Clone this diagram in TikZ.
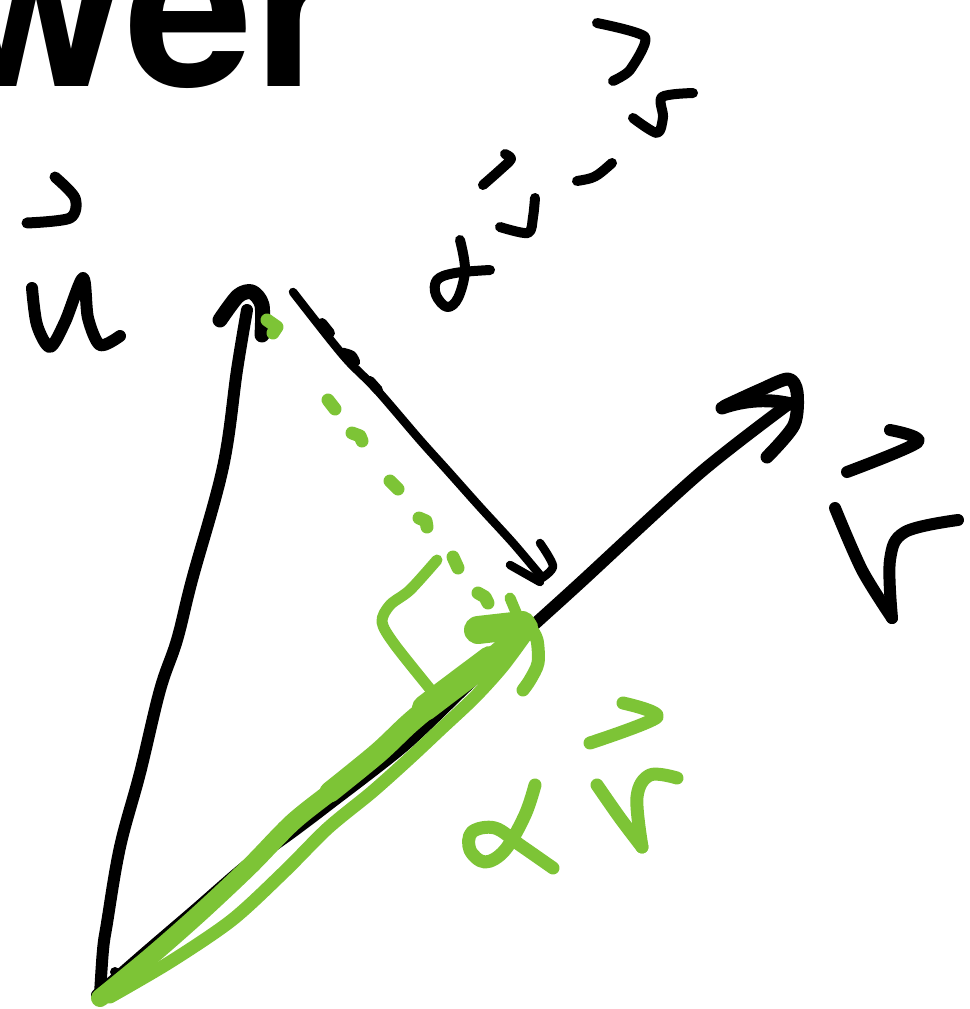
\documentclass[tikz,border=0pt]{standalone}
\usepackage{fontspec}
\newfontfamily\heros{TeX Gyre Heros}
\definecolor{gr}{RGB}{125,196,54}
\tikzset{
  ink/.style={draw=black, line cap=round, line join=round},
  gink/.style={draw=gr, line cap=round, line join=round},
}
\begin{document}
\begin{tikzpicture}[x=1pt,y=-1pt]
\useasboundingbox (0,0) rectangle (969,1009);
\clip (0,0) rectangle (969,1009);
% title fragment
\node[anchor=base west, inner sep=0, font=\heros\bfseries\fontsize{230}{230}\selectfont] (title) at (-53,86) {wer};

% vector u
\draw[ink, line width=12] plot[smooth, tension=0.6] coordinates {(100,995) (103,950) (107,923) (120,847) (140,773) (160,690) (177,640) (192,580) (223,467) (237,370) (247,310)};
\draw[ink, line width=15] plot[smooth] coordinates {(220,320) (238,296) (252,292) (262,305) (262,335)};
% label u
\draw[ink, line width=11] plot[smooth] coordinates {(55,177) (75,198) (70,218) (27,223)};
\draw[ink, line width=12] plot[smooth, tension=0.5] coordinates {(32,288) (37,325) (50,347) (65,322) (83,278) (88,318) (100,345) (120,336)};

% vector v
\draw[ink, line width=12] plot[smooth] coordinates {(97,995) (145,953) (194,911) (246,866) (295,830) (328,805) (405,745) (470,683) (537,622) (580,583) (700,473) (790,403)};
\draw[ink, line width=13] (722,408) .. controls (745,400) and (770,398) .. (795,405);
\draw[ink, line width=13] plot[smooth] coordinates {(725,406) (760,390) (788,379) (797,392) (794,425) (767,457)};
\fill (115,972) circle (5);
% label v
\draw[ink, line width=12] plot[smooth, tension=0.5] coordinates {(890,430) (918,442) (847,472)};
\draw[ink, line width=12] plot[smooth, tension=0.5] coordinates {(835,508) (862,570) (892,618)};
\draw[ink, line width=12] plot[smooth, tension=0.6] coordinates {(892,618) (890,560) (905,532) (958,520)};

% perpendicular arrow v - alpha v
\draw[ink, line width=8.5] plot[smooth] coordinates {(293,292) (307,310) (333,343) (350,363) (377,390) (420,440) (447,470) (480,507) (513,543) (540,575)};
\draw[ink, line width=8.5] (510,565) -- (540,582);
\draw[ink, line width=8.5] plot[smooth] coordinates {(540,543) (553,566) (542,578)};
\draw[ink, line width=10] (322,323) -- (330,333);
\draw[ink, line width=8.5] plot[smooth] coordinates {(343,352) (352,355) (356,362)};
\draw[ink, line width=10] (370,381) -- (378,390);

% label v - alpha v
\draw[ink, line width=10] plot[smooth, tension=0.4] coordinates {(597,23) (645,37) (630,70) (613,81)};
\draw[ink, line width=10] plot[smooth, tension=0.5] coordinates {(633,118) (657,133) (663,117) (662,97) (693,93)};
\draw[ink, line width=10] (577,181) .. controls (595,178) .. (612,163);
\draw[ink, line width=10] plot[smooth, tension=0.5] coordinates {(483,185) (500,170) (511,159) (505,154)};
\draw[ink, line width=10] plot[smooth, tension=0.5] coordinates {(500,227) (528,233) (533,217) (535,198)};
\draw[ink, line width=10] plot[smooth, tension=0.6] coordinates {(460,240) (465,270) (458,298) (447,307) (436,295) (437,280) (455,273) (490,270)};

% green projection (dashed)
\draw[gink, line width=13] (267,320) -- (277,327) -- (273,333);
\draw[gink, line width=13] (328,400) -- (335,409);
\draw[gink, line width=13] (352,433) -- (360,436) -- (362,441);
\draw[gink, line width=13] (390,481) -- (398,489);
\draw[gink, line width=13] (419,518) -- (426,521) -- (427,527);
\draw[gink, line width=13] (453,557) -- (458,568);
\draw[gink, line width=13] (478,593) -- (485,597) -- (488,603);

% right-angle mark
\draw[gink, line width=11] plot[smooth, tension=0.5] coordinates {(437,560) (410,590) (390,605) (382,622) (395,645) (435,695)};

% green vector alpha v
\draw[gink, line width=13] plot[smooth] coordinates {(110,997) (170,962) (232,920) (284,872) (328,828) (372,792) (410,758) (442,728) (475,697) (503,666) (528,632)};
\draw[gink, line width=18] plot[smooth] coordinates {(100,998) (150,957) (200,913) (250,866) (293,822) (337,787) (378,753) (411,722) (450,690) (490,660) (528,628)};
\draw[gink, line width=21] plot[smooth] coordinates {(330,792) (378,753) (411,722) (450,690) (490,660)};
\draw[gink, line width=26] plot[smooth] coordinates {(425,708) (450,689) (490,659)};
\draw[gink, line width=20] (480,668) -- (528,627);
\draw[gink, line width=28] (478,630) -- (522,625);
\draw[gink, line width=13] plot[smooth] coordinates {(530,627) (537,640) (538,663) (530,680) (523,690)};
\draw[gink, line width=11] (510,598) -- (518,617);

% label alpha v (green)
\draw[gink, line width=13] plot[smooth, tension=0.5] coordinates {(623,703) (657,717) (590,743)};
\draw[gink, line width=13] plot[smooth, tension=0.5] coordinates {(597,785) (620,818) (642,847)};
\draw[gink, line width=13] plot[smooth, tension=0.6] coordinates {(642,847) (637,797) (650,775) (677,778)};
\draw[gink, line width=13] plot[smooth, tension=0.6] coordinates {(535,785) (525,815) (505,850) (485,862) (470,850) (472,832) (495,828) (520,845) (553,868)};
\end{tikzpicture}
\end{document}
